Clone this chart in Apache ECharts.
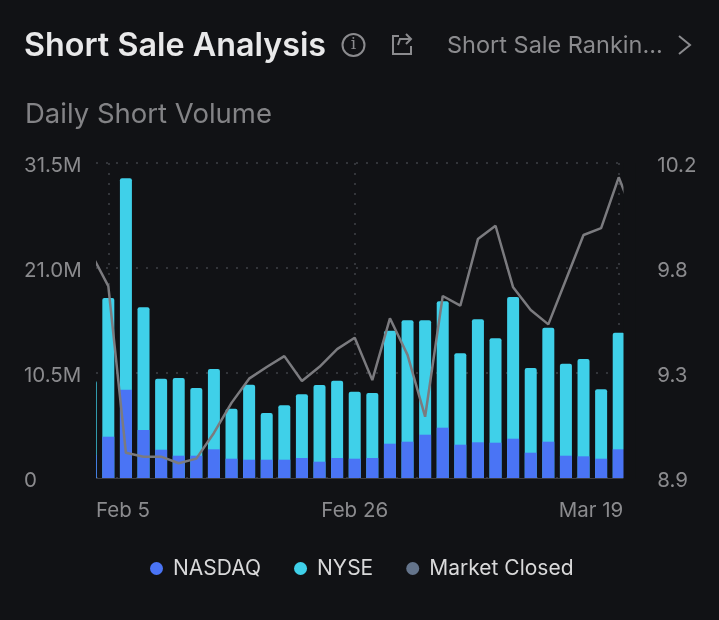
<!DOCTYPE html>
<html><head><meta charset="utf-8">
<style>html,body{margin:0;padding:0;background:#111215}#c{width:719px;height:620px}</style>
<script src="https://cdn.jsdelivr.net/npm/echarts@6/dist/echarts.min.js"></script>
</head><body><div id="c"></div>
<script>
// Index 1 = Feb 5, 15 = Feb 26, 30 = Mar 19; 0 and 31 are cut off by the plot edges
const tickLabels = ["Feb 5", "Feb 26", "Mar 19"];
const nasdaq = [2.3,4.13,8.83,4.8,2.83,2.23,2.23,2.87,1.93,1.83,1.83,1.83,2.0,1.63,2.0,1.93,2.0,3.43,3.63,4.33,5.03,3.33,3.57,3.53,3.93,2.53,3.63,2.23,2.17,1.93,2.87];
const total  = [9.73,18.0,29.97,17.07,9.93,10.0,9.0,10.9,6.93,9.33,6.5,7.27,8.37,9.3,9.73,8.63,8.5,14.73,15.77,15.77,17.67,12.47,15.87,13.97,18.1,11.0,15.03,11.43,11.9,8.87,14.53];
const price  = [9.830,9.692,9.004,8.988,8.988,8.961,8.980,9.086,9.210,9.310,9.358,9.403,9.300,9.359,9.432,9.479,9.304,9.559,9.408,9.153,9.651,9.611,9.886,9.941,9.687,9.593,9.534,9.718,9.903,9.931,10.141,9.956];
const leftTicks = [0, 10.5, 21, 31.5];
const rightTicks = [8.9, 9.3333, 9.7667, 10.2];

const xy = a => a.map((v, i) => [i, v]);
const xMin = 0.3, xMax = 30.26;
const labelAt = [xMin, 15, xMax];
const font = 'Inter';
const axisText = '#8b8b8e';

const chart = echarts.init(document.getElementById('c'), null, {renderer: 'canvas'});
chart.setOption({
  backgroundColor: '#111215',
  animation: false,
  textStyle: {fontFamily: font},
  title: [
    {text: 'Short Sale Analysis', left: 24, top: 30, padding: 0, textStyle: {color: '#e9e9ea', fontSize: 32.3, fontWeight: 600, fontFamily: font}},
    {text: 'Short Sale Rankin...', left: 447, top: 34, padding: 0, textStyle: {color: axisText, fontSize: 23.5, fontWeight: 400, fontFamily: font}},
    {text: 'Daily Short Volume', left: 25, top: 101, padding: 0, textStyle: {color: '#838386', fontSize: 27.5, fontWeight: 400, fontFamily: font}}
  ],
  legend: {
    data: ['NASDAQ', 'NYSE', 'Market Closed'], left: 145, top: 553, icon: 'circle',
    itemWidth: 13, itemHeight: 13, itemGap: 33,
    textStyle: {color: '#d9d9da', fontSize: 21, fontFamily: font, padding: [0, 0, 0, 5]}
  },
  grid: {left: 96, right: 95.7, top: 163, bottom: 142},
  xAxis: {
    type: 'value', min: xMin, max: xMax,
    axisLine: {show: true, onZero: false, lineStyle: {color: '#3a3c42', width: 1}},
    axisTick: {show: false, customValues: [1, 15, 30]},
    splitLine: {show: true, lineStyle: {color: '#33353a', type: [2, 8], width: 2}},
    axisLabel: {
      customValues: labelAt, alignMinLabel: 'left', alignMaxLabel: 'right', margin: 22,
      color: axisText, fontSize: 20.5, fontFamily: font,
      formatter: v => tickLabels[labelAt.indexOf(v)]
    }
  },
  yAxis: [
    {type: 'value', min: 0, max: 31.5, position: 'left',
     axisLine: {show: false}, axisTick: {show: false, customValues: leftTicks},
     splitLine: {show: true, lineStyle: {color: '#33353a', type: [2, 8], width: 2}},
     axisLabel: {customValues: leftTicks, align: 'left', margin: 72, verticalAlign: 'top', lineHeight: 6, color: axisText, fontSize: 20.5, fontFamily: font,
       formatter: v => v === 0 ? '0' : v.toFixed(1) + 'M'}},
    {type: 'value', min: 8.9, max: 10.2, position: 'right',
     axisLine: {show: false}, axisTick: {show: false}, splitLine: {show: false},
     axisLabel: {customValues: rightTicks, margin: 34, verticalAlign: 'top', lineHeight: 6, color: axisText, fontSize: 20.5, fontFamily: font,
       formatter: v => v.toFixed(1)}}
  ],
  series: [
    {name: 'NYSE', type: 'bar', barWidth: 12, barGap: '-100%', data: xy(total), itemStyle: {color: '#3fd0e9', borderRadius: [2, 2, 0, 0]}},
    {name: 'NASDAQ', type: 'bar', barWidth: 12, barGap: '-100%', data: xy(nasdaq), itemStyle: {color: '#4a74f5'}},
    {name: 'Market Closed', type: 'bar', barWidth: 12, barGap: '-100%', data: [], itemStyle: {color: '#64748b'}},
    {name: 'Price', type: 'line', yAxisIndex: 1, clip: true, showSymbol: false, symbol: 'none', data: xy(price), z: 5,
     lineStyle: {color: '#7b7b7f', width: 2.5}}
  ],
  graphic: [
    // masks the bars that overhang the plot edges
    {type: 'rect', z: 100, shape: {x: 83, y: 163, width: 13, height: 316}, style: {fill: '#111215'}},
    {type: 'rect', z: 100, shape: {x: 623.5, y: 163, width: 12, height: 316}, style: {fill: '#111215'}},
    {type: 'circle', shape: {cx: 353.5, cy: 45, r: 11}, style: {fill: 'none', stroke: axisText, lineWidth: 2}},
    {type: 'text', style: {x: 353.5, y: 45, text: 'i', fill: axisText, fontSize: 17, fontFamily: 'DejaVu Serif', align: 'center', verticalAlign: 'middle'}},
    {type: 'polyline', shape: {points: [[399, 36], [393, 36], [393, 54], [411, 54], [411, 46]]}, style: {fill: 'none', stroke: axisText, lineWidth: 2}},
    {type: 'polyline', shape: {points: [[398, 45], [400, 39], [411, 39]]}, style: {fill: 'none', stroke: axisText, lineWidth: 2}},
    {type: 'polyline', shape: {points: [[406, 34], [411, 39], [406, 44]]}, style: {fill: 'none', stroke: axisText, lineWidth: 2}},
    {type: 'polyline', shape: {points: [[679, 36], [690, 45], [679, 54]]}, style: {fill: 'none', stroke: axisText, lineWidth: 2}}
  ]
});
</script></body></html>
